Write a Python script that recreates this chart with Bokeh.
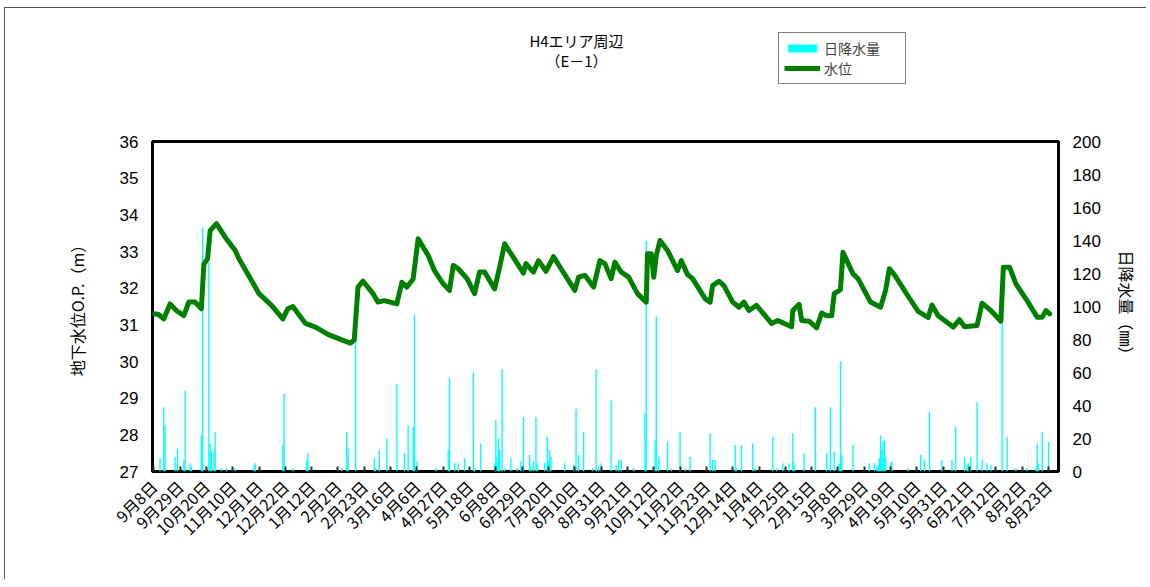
from math import pi
from bokeh.plotting import figure
from bokeh.layouts import column
from bokeh.models import (Range1d, LinearAxis, FixedTicker, Legend, LegendItem,
                          Label, ColumnDataSource)
from bokeh.embed import file_html
from bokeh.resources import INLINE

# ---- data -------------------------------------------------------------
tick_labels = ["9月8日", "9月29日", "10月20日", "11月10日", "12月1日", "12月22日",
               "1月12日", "2月2日", "2月23日", "3月16日", "4月6日", "4月27日",
               "5月18日", "6月8日", "6月29日", "7月20日", "8月10日", "8月31日",
               "9月21日", "10月12日", "11月2日", "11月23日", "12月14日", "1月4日",
               "1月25日", "2月15日", "3月8日", "3月29日", "4月19日", "5月10日",
               "5月31日", "6月21日", "7月12日", "8月2日", "8月23日"]
tick_days = [i * 21 for i in range(len(tick_labels))]

level_days = [0, 4, 8, 13, 18, 24, 28, 33, 38, 40, 43, 45, 50, 57, 65, 68, 78, 84,
              94, 103, 107, 111, 121, 129, 139, 150, 157, 160, 163, 167, 175, 179,
              184, 194, 198, 202, 207, 211, 219, 224, 231, 236, 239, 243, 250, 256,
              260, 264, 272, 276, 280, 287, 295, 297, 303, 307, 313, 319, 325, 336,
              339, 344, 351, 356, 360, 365, 368, 373, 379, 386, 393, 394, 397, 399,
              401, 404, 410, 418, 421, 426, 430, 440, 444, 446, 451, 455, 462, 467,
              471, 475, 481, 493, 498, 503, 509, 510, 515, 517, 523, 529, 533, 537,
              541, 543, 548, 550, 558, 562, 572, 580, 584, 587, 591, 602, 610, 618,
              621, 626, 638, 643, 647, 657, 661, 668, 676, 678, 683, 688, 696, 705,
              709, 712, 715]
level_values = [31.30, 31.28, 31.16, 31.57, 31.39, 31.25, 31.62, 31.62, 31.44, 32.66,
                32.80, 33.57, 33.76, 33.39, 33.03, 32.80, 32.21, 31.85, 31.53, 31.16,
                31.44, 31.50, 31.04, 30.94, 30.74, 30.59, 30.50, 30.59, 32.03, 32.19,
                31.85, 31.62, 31.66, 31.57, 32.16, 32.03, 32.25, 33.35, 32.89, 32.48,
                32.12, 31.94, 32.62, 32.53, 32.26, 31.85, 32.44, 32.44, 31.98, 32.57,
                33.21, 32.84, 32.41, 32.67, 32.44, 32.75, 32.46, 32.86, 32.53, 31.94,
                32.30, 32.35, 32.03, 32.75, 32.67, 32.26, 32.71, 32.44, 32.30, 31.85,
                31.62, 32.94, 32.94, 32.30, 32.89, 33.30, 33.03, 32.48, 32.75, 32.37,
                32.26, 31.71, 31.62, 32.07, 32.19, 32.07, 31.62, 31.48, 31.62, 31.39,
                31.53, 31.04, 31.12, 31.04, 30.95, 31.39, 31.56, 31.12, 31.10, 30.92,
                31.32, 31.25, 31.25, 31.85, 31.96, 32.98, 32.39, 32.26, 31.62, 31.48,
                31.94, 32.53, 32.37, 31.78, 31.37, 31.20, 31.54, 31.25, 30.94, 31.14,
                30.95, 30.98, 31.59, 31.39, 31.10, 32.57, 32.57, 32.12, 31.71, 31.21,
                31.21, 31.39, 31.30]

rain_days = [5, 8, 9, 17, 19, 24, 25, 29, 30, 38, 39, 44, 45, 46, 48, 49, 54, 58, 65,
             80, 81, 103, 104, 111, 122, 123, 150, 154, 155, 161, 176, 177, 180, 186,
             194, 200, 203, 207, 208, 210, 225, 235, 236, 240, 243, 248, 255, 256,
             261, 272, 273, 274, 275, 276, 278, 280, 285, 290, 293, 295, 300, 301,
             303, 305, 306, 312, 314, 315, 316, 317, 328, 335, 337, 339, 343, 350,
             353, 355, 357, 365, 369, 371, 373, 383, 392, 393, 400, 401, 403, 410,
             413, 420, 424, 428, 444, 446, 448, 464, 465, 469, 478, 480, 494, 497,
             502, 507, 510, 511, 519, 528, 537, 540, 543, 547, 548, 549, 558, 571,
             575, 577, 578, 579, 580, 581, 582, 583, 584, 588, 589, 602, 612, 615,
             619, 629, 637, 640, 647, 649, 650, 652, 657, 661, 665, 668, 677, 681,
             688, 697, 704, 705, 706, 709, 714]
rain_values = [8, 39, 28, 9, 14, 7, 49, 5, 3, 22, 148, 127, 17, 12, 13, 24, 2, 2, 2,
               4, 5, 16, 47, 2, 7, 11, 2, 24, 14, 81, 8, 2, 13, 20,
               53, 11, 28, 27, 95, 6, 2, 13, 57, 5, 5, 8, 60, 2,
               17, 5, 31, 9, 20, 13, 62, 2, 8, 2, 6, 33, 10, 3,
               6, 33, 5, 5, 21, 6, 13, 9, 5, 4, 38, 10, 24, 2,
               62, 3, 5, 43, 4, 7, 7, 2, 35, 140, 19, 94, 9, 18,
               2, 24, 2, 9, 23, 7, 7, 16, 2, 16, 17, 2, 21, 2,
               5, 5, 23, 5, 11, 39, 11, 39, 12, 5, 67, 10, 16, 5,
               5, 3, 4, 8, 22, 13, 18, 19, 9, 5, 6, 2, 10, 7,
               36, 7, 7, 27, 9, 4, 5, 9, 42, 7, 5, 4, 90, 21,
               2, 2, 2, 17, 5, 24, 18]

title_lines = ["H4エリア周辺", "（E－1）"]
left_label = "地下水位O.P.（m）"
right_label = "日降水量（㎜）"
legend_rain = "日降水量"
legend_level = "水位"

# ---- styling ----------------------------------------------------------
JP = "Noto Sans CJK JP"
NUM = "Liberation Sans"
RAIN_COLOR = "#00FFFF"
LEVEL_COLOR = "#008000"
TOTAL_W = 1141

rain_src = ColumnDataSource(dict(x=rain_days, top=rain_values))
level_src = ColumnDataSource(dict(x=level_days, y=level_values))

# ---- header figure: title + legend -----------------------------------
head = figure(width=TOTAL_W, height=121, output_backend="svg", toolbar_location=None,
              x_range=Range1d(0, 1), y_range=Range1d(0, 1),
              x_axis_location=None, y_axis_location=None,
              min_border_left=0, min_border_right=0, min_border_top=0,
              min_border_bottom=0)
head.grid.visible = False
head.outline_line_color = None
head.background_fill_color = "white"
head.border_fill_color = "white"

for t, yy in zip(title_lines, [89, 69]):
    head.add_layout(Label(x=424, y=yy, x_units="screen", y_units="screen", text=t,
                          text_font=JP, text_font_size="15px", text_color="black",
                          text_align="center", text_baseline="middle"))

# legend renderers: same series and styles, hidden here (drawn in the main chart)
leg_bar = head.vbar(x="x", top="top", bottom=0, width=1.1, source=rain_src,
                    fill_color=RAIN_COLOR, line_color=None, visible=False)
leg_line = head.line(x="x", y="y", source=level_src, line_color=LEVEL_COLOR,
                     line_width=5, visible=False)
legend = Legend(items=[LegendItem(label=legend_rain, renderers=[leg_bar]),
                       LegendItem(label=legend_level, renderers=[leg_line])],
                location=(626, 45), border_line_color="black", border_line_width=1,
                background_fill_color="white", background_fill_alpha=1,
                inactive_fill_alpha=0,
                label_text_font=JP, label_text_font_size="14px",
                glyph_width=36, glyph_height=10, label_height=18, label_width=76,
                spacing=0, padding=5, margin=0, label_standoff=4)
head.add_layout(legend, "center")

# ---- main figure ------------------------------------------------------
p = figure(frame_width=906, frame_height=330, output_backend="svg",
           toolbar_location=None, x_range=Range1d(-1, 722), y_range=Range1d(27, 36),
           min_border_left=147, min_border_right=88, min_border_top=12,
           min_border_bottom=108)
p.extra_y_ranges = {"rain": Range1d(0, 200)}
p.grid.visible = False
p.outline_line_color = "black"
p.outline_line_width = 3
p.background_fill_color = "white"
p.border_fill_color = "white"

p.vbar(x="x", top="top", bottom=0, width=1.1, source=rain_src, y_range_name="rain",
       fill_color=RAIN_COLOR, line_color=None)
p.line(x="x", y="y", source=level_src, line_color=LEVEL_COLOR, line_width=5,
       line_join="round", line_cap="round")

# x axis
xa = p.xaxis[0]
xa.ticker = FixedTicker(ticks=tick_days)
xa.major_label_overrides = {d: t for d, t in zip(tick_days, tick_labels)}
xa.major_label_orientation = pi / 4
xa.major_label_text_font = JP
xa.major_label_text_font_size = "16px"
xa.major_label_text_color = "black"
xa.major_label_standoff = 12
xa.major_tick_in = 5
xa.major_tick_out = 0
xa.major_tick_line_color = "#333333"
xa.major_tick_line_width = 2
xa.minor_tick_line_color = None
xa.axis_line_color = None

# left axis
ya = p.yaxis[0]
ya.ticker = FixedTicker(ticks=list(range(27, 37)))
ya.major_label_text_font = NUM
ya.major_label_text_font_size = "17px"
ya.major_label_text_color = "black"
ya.major_label_standoff = 14
ya.major_tick_in = 0
ya.major_tick_out = 0
ya.minor_tick_line_color = None
ya.axis_line_color = None
ya.axis_label = left_label
ya.axis_label_text_font = JP
ya.axis_label_text_font_size = "16px"
ya.axis_label_text_font_style = "normal"
ya.axis_label_text_color = "black"
ya.axis_label_standoff = 28

# right axis
ra = LinearAxis(y_range_name="rain", ticker=FixedTicker(ticks=list(range(0, 201, 20))))
ra.major_label_text_font = NUM
ra.major_label_text_font_size = "17px"
ra.major_label_text_color = "black"
ra.major_label_standoff = 14
ra.major_tick_in = 0
ra.major_tick_out = 0
ra.minor_tick_line_color = None
ra.axis_line_color = None
ra.axis_label = right_label
ra.axis_label_text_font = JP
ra.axis_label_text_font_size = "16px"
ra.axis_label_text_font_style = "normal"
ra.axis_label_text_color = "black"
ra.axis_label_standoff = 11
p.add_layout(ra, "right")

layout = column(head, p, spacing=0)
layout.styles = {"margin-left": "4px", "margin-top": "7px",
                 "border-left": "1px solid #555555", "border-top": "1px solid #555555"}

open("out.html", "w").write(file_html(layout, INLINE))
